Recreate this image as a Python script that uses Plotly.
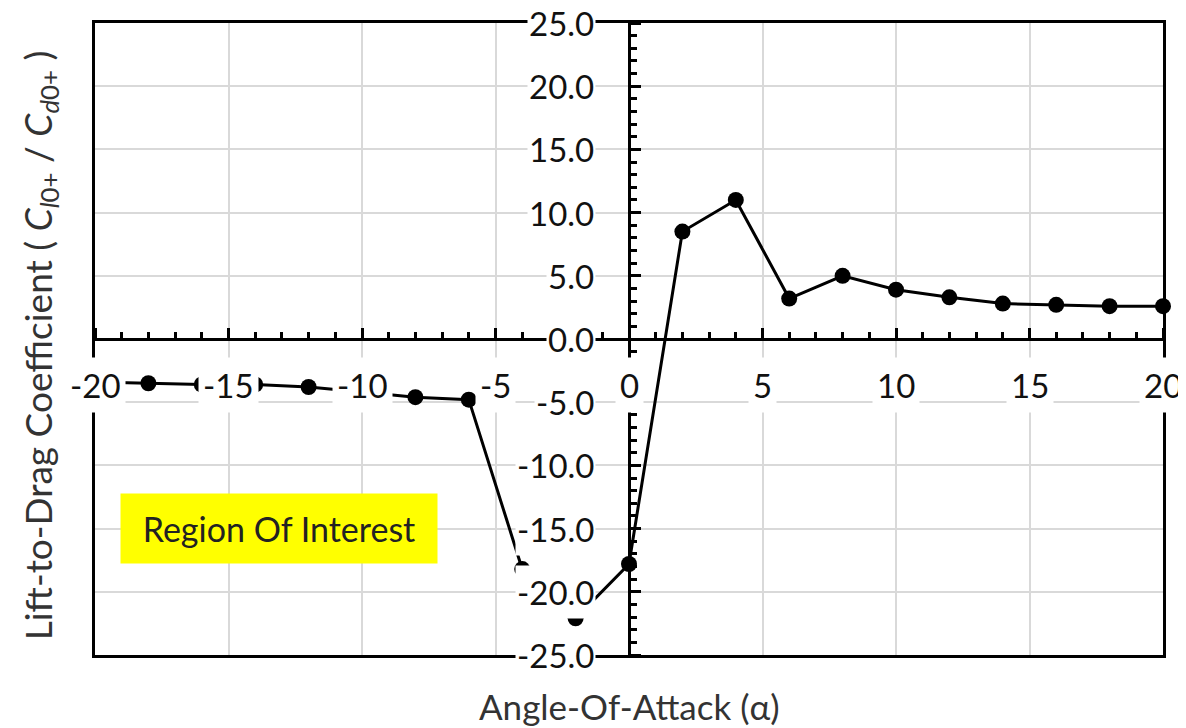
import plotly.graph_objects as go

# angle of attack (deg) and lift-to-drag ratio
aoa = [-20, -18, -16, -14, -12, -10, -8, -6, -4, -2, 0,
       2, 4, 6, 8, 10, 12, 14, 16, 18, 20]
lift_drag = [-3.4, -3.5, -3.6, -3.6, -3.8, -4.2, -4.6, -4.8, -18.2, -22.1, -17.8,
             8.5, 11.0, 3.2, 5.0, 3.9, 3.3, 2.8, 2.7, 2.6, 2.6]

x_ticks = [-20, -15, -10, -5, 0, 5, 10, 15, 20]
y_ticks = [25, 20, 15, 10, 5, 0, -5, -10, -15, -20, -25]

FONT = "Lato, 'Open Sans', sans-serif"
TICK_FONT = dict(family=FONT, size=33, color="#111111")

fig = go.Figure()

fig.add_trace(
    go.Scatter(
        x=aoa,
        y=lift_drag,
        mode="lines+markers",
        line=dict(color="black", width=3),
        marker=dict(color="black", size=16),
        cliponaxis=False,
        showlegend=False,
    )
)

# invisible copy so the crossing axes get a subplot of their own
fig.add_trace(
    go.Scatter(
        x=aoa,
        y=lift_drag,
        xaxis="x2",
        yaxis="y2",
        mode="markers",
        marker=dict(opacity=0),
        hoverinfo="skip",
        showlegend=False,
    )
)

frame = dict(
    showline=True,
    mirror=True,
    linewidth=3,
    linecolor="black",
    showgrid=True,
    gridcolor="#d9d9d9",
    gridwidth=2,
    zeroline=False,
    showticklabels=False,
    ticks="",
)

cross = dict(
    showline=True,
    linewidth=3,
    linecolor="black",
    showgrid=False,
    zeroline=False,
    showticklabels=False,
    ticks="outside",
    ticklen=10,
    tickwidth=3,
    tickcolor="black",
    anchor="free",
    position=0.5,
    minor=dict(dtick=1, ticklen=6, tickwidth=3, tickcolor="black", ticks="outside"),
)

# the page body adds an 8px offset, so the plot margins are shifted by that much
fig.update_layout(
    width=1178,
    height=720,
    paper_bgcolor="white",
    plot_bgcolor="white",
    margin=dict(l=87, r=23, t=12, b=73),
    xaxis=dict(range=[-20, 20], dtick=5, tick0=0, **frame),
    yaxis=dict(range=[-25, 25], dtick=5, tick0=0, **frame),
    xaxis2=dict(range=[-20, 20], overlaying="x", side="top", dtick=5, tick0=0, **cross),
    yaxis2=dict(range=[-25, 25], overlaying="y", side="right", dtick=5, tick0=0, **cross),
)

# tick labels sit on white boxes that hide whatever is under them
for v in x_ticks:
    fig.add_annotation(
        x=v, y=0, xref="x", yref="y",
        text=str(v), showarrow=False,
        xanchor="center", yanchor="middle", yshift=-46,
        height=46, borderpad=4, bgcolor="white",
        font=TICK_FONT,
    )

for v in y_ticks:
    fig.add_annotation(
        x=0, y=v, xref="x", yref="y",
        text=f"{v:.1f}", showarrow=False,
        xanchor="right", yanchor="middle", xshift=-33,
        height=50, borderpad=1, bgcolor="white",
        font=TICK_FONT,
    )

fig.add_annotation(
    x=-13.1, y=-15.0, xref="x", yref="y",
    text="Region Of Interest", showarrow=False,
    width=316, height=69, borderpad=0, bgcolor="#ffff00",
    font=dict(family=FONT, size=34, color="#222222"),
)

fig.add_annotation(
    x=0.5, y=0, xref="paper", yref="paper",
    text="Angle-Of-Attack (α)", showarrow=False,
    xanchor="center", yanchor="top", yshift=-28,
    font=dict(family=FONT, size=35, color="#333333"),
)

fig.add_annotation(
    x=0, y=0.49, xref="paper", yref="paper",
    text="Lift-to-Drag Coefficient ( <i>C</i><sub><i>l</i>0+</sub> / <i>C</i><sub><i>d</i>0+</sub> )",
    textangle=-90, showarrow=False,
    xanchor="center", yanchor="middle", xshift=-55,
    font=dict(family=FONT, size=37, color="#333333"),
)

fig.write_html("out.html")
